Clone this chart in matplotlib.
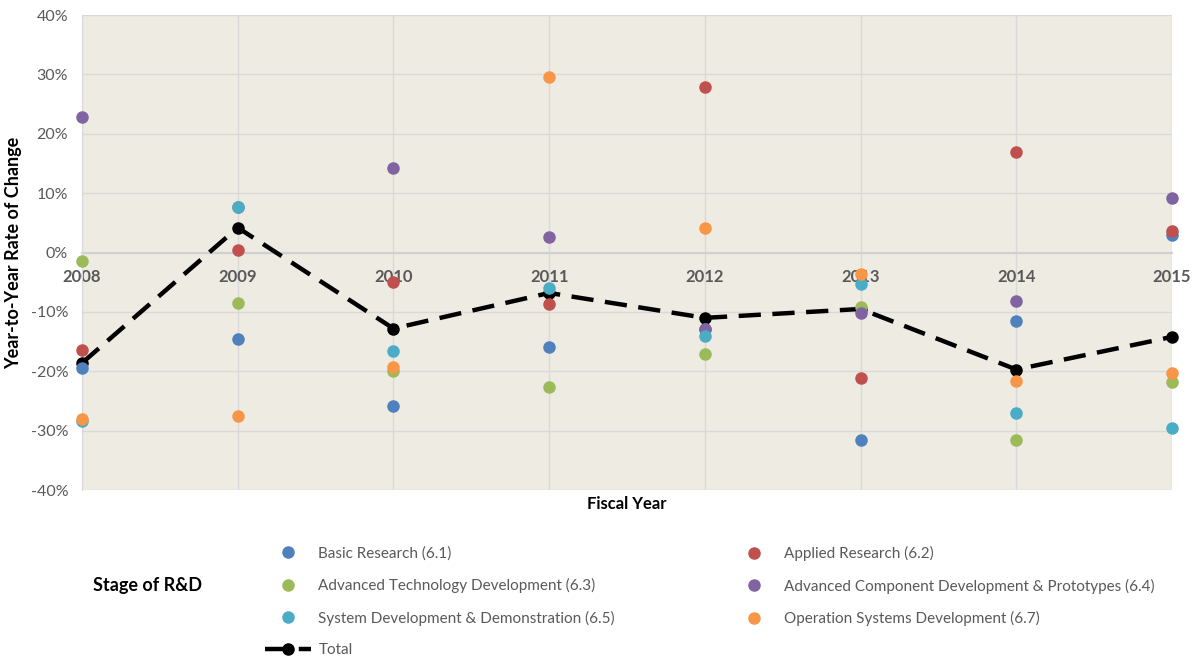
import matplotlib
matplotlib.use("Agg")
import matplotlib.pyplot as plt
from matplotlib.ticker import FuncFormatter

plt.rcParams['font.family'] = ['Lato', 'DejaVu Sans']

years = [2008, 2009, 2010, 2011, 2012, 2013, 2014, 2015]

# year-to-year rate of change, in percent
basic = [-19.5, -14.6, -25.8, -15.9, -12.9, -31.5, -11.5, 3.0]
applied = [-16.4, 0.5, -5.0, -8.7, 27.9, -21.2, 17.0, 3.6]
adv_tech = [-1.5, -8.5, -20.0, -22.6, -17.1, -9.2, -31.6, -21.8]
adv_comp = [22.8, 7.7, 14.2, 2.6, -12.9, -10.1, -8.1, 9.2]
sys_dev = [-28.4, 7.7, -16.5, -6.0, -14.1, -5.3, -27.1, -29.5]
op_sys = [-28.0, -27.6, -19.2, 29.6, 4.2, -3.6, -21.6, -20.3]
total = [-18.6, 4.2, -12.8, -6.8, -11.0, -9.5, -19.7, -14.2]

series_names = ["Basic Research (6.1)", "Applied Research (6.2)",
                "Advanced Technology Development (6.3)",
                "Advanced Component Development & Prototypes (6.4)",
                "System Development & Demonstration (6.5)",
                "Operation Systems Development (6.7)"]
series_values = [basic, applied, adv_tech, adv_comp, sys_dev, op_sys]
colors = ["#4F81BD", "#C0504D", "#9BBB59", "#8064A2", "#4BACC6", "#F79646"]

fig = plt.figure(figsize=(11.96, 6.58), dpi=100)
ax = fig.add_axes([0.0686, 0.2553, 0.9114, 0.7217])
ax.set_facecolor("#EDEBE2")

# total first so the stage dots sit on top of it
tot_line, = ax.plot(years, total, color="black", lw=3.2, ls=(0, (5, 2.6)),
                    marker="o", ms=8, zorder=3, clip_on=False)
handles = {}
for name, vals, c in zip(series_names, series_values, colors):
    h, = ax.plot(years, vals, ls="none", marker="o", ms=8, color=c, zorder=4,
                 clip_on=False)
    handles[name] = h

ax.set_xlim(2008, 2015)
ax.set_ylim(-40, 40)
ax.set_yticks(range(-40, 41, 10))
ax.yaxis.set_major_formatter(FuncFormatter(lambda v, p: f"{v:.0f}%"))
ax.set_xticks(years)
ax.grid(True, color="#D9D9D9", lw=1)
ax.set_axisbelow(True)

for s in ["top", "right"]:
    ax.spines[s].set_visible(False)
ax.spines["left"].set_color("#D9D9D9")
ax.spines["bottom"].set_position(("data", 0))
ax.spines["bottom"].set_color("#D0D0D0")
ax.spines["bottom"].set_linewidth(1.5)
ax.spines["bottom"].set_zorder(2)
ax.tick_params(axis="both", length=0)
ax.tick_params(axis="y", labelsize=11.5, labelcolor="#595959", pad=10)
ax.tick_params(axis="x", labelsize=12, labelcolor="#595959", pad=12)
for lab in ax.get_xticklabels():
    lab.set_fontweight("bold")
    lab.set_zorder(5)

ax.set_ylabel("Year-to-Year Rate of Change", fontsize=13, fontweight="bold", labelpad=6)
ax.text(0.5, -0.012, "Fiscal Year", transform=ax.transAxes, ha="center", va="top",
        fontsize=12, fontweight="bold")

fig.text(93 / 1196, 1 - 585 / 658, "Stage of R&D", fontsize=13, fontweight="bold",
         va="center", ha="left")

left_items = [handles[series_names[0]], handles[series_names[2]], handles[series_names[4]], tot_line]
left_labels = [series_names[0], series_names[2], series_names[4], "Total"]
right_items = [handles[series_names[1]], handles[series_names[3]], handles[series_names[5]]]
right_labels = [series_names[1], series_names[3], series_names[5]]

leg_kw = dict(frameon=False, fontsize=11, handlelength=3.0, handletextpad=0.5,
              labelspacing=1.15, borderpad=0, borderaxespad=0, labelcolor="#595959")
leg1 = fig.legend(left_items, left_labels, loc="upper left",
                  bbox_to_anchor=(265 / 1196, 1 - 546 / 658), **leg_kw)
leg2 = fig.legend(right_items, right_labels, loc="upper left",
                  bbox_to_anchor=(731 / 1196, 1 - 546 / 658), **leg_kw)

fig.savefig("out.png", dpi=100, facecolor="white")
